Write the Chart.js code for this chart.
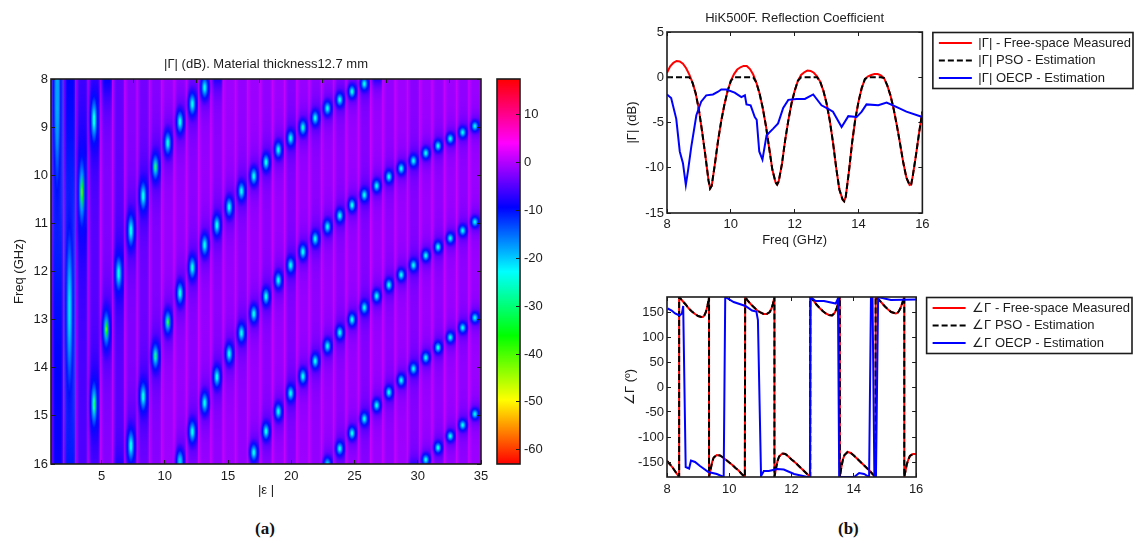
<!DOCTYPE html>
<html>
<head>
<meta charset="utf-8">
<style>
  html, body { margin: 0; background: #fff; width: 1136px; height: 543px; overflow: hidden; }
  canvas { position: absolute; }
  .cap { position: absolute; font: bold 17px "Liberation Serif", serif; color: #111; }
</style>
<script src="https://cdn.jsdelivr.net/npm/chart.js@4"></script>
</head>
<body>
<canvas id="heat" width="492" height="439" style="left:0;top:58px"></canvas>
<canvas id="cbar" width="70" height="395" style="left:490px;top:75px"></canvas>
<canvas id="mag" width="521" height="235" style="left:620px;top:12px"></canvas>
<canvas id="phase" width="520" height="206" style="left:620px;top:294px"></canvas>
<div class="cap" style="left:255px;top:519px">(a)</div>
<div class="cap" style="left:838px;top:519px">(b)</div>
<script>
// heat map, one list per column (epsilon = 1..35)
const epsCols = [1,2,3,4,5,6,7,8,9,10,11,12,13,14,15,16,17,18,19,20,21,22,23,24,25,26,27,28,29,30,31,32,33,34,35];
const epsTicks = [5,10,15,20,25,30,35];
const heatFreqTicks = [8,9,10,11,12,13,14,15,16];
const colorTicks = [10,0,-10,-20,-30,-40,-50,-60];
const columnBase = [-8,-8,-5,-4,-2,-4,-2,-3,-2,-1,-1,-1.5,-1,-1.5,-1,-1.5,-1,-1.5,-1,-2,-1,-1.5,-1,-1.5,-1,-2,-1,-1.5,-1,-2,-1,-1.5,-1,-1.5,-1];
const dipFreqs = [
  [8.3],[12.8],[10.35],[8.85,14.76],[7.92,13.2],[12.04,16.5],[11.15,15.62],[10.43,14.6],[9.83,13.76],[9.33,13.05],
  [8.89,12.45,15.95],[8.52,11.92,15.33],[8.18,11.45,14.73],[7.88,11.04,14.19],[10.66,13.71],[10.33,13.28],[10.02,12.88,15.76],[9.73,12.52,15.32],[9.47,12.18,14.91],[9.23,11.87,14.53],
  [9.01,11.59,14.18],[8.81,11.32,13.86],[8.61,11.07,13.55,16.01],[8.43,10.84,13.27,15.68],[8.26,10.62,13,15.36],[8.1,10.41,12.75,15.06],[7.95,10.22,12.51,14.78],[10.03,12.28,14.51],[9.86,12.07,14.26],[9.7,11.87,14.02,16.1],
  [9.54,11.67,13.79,15.91],[9.39,11.49,13.58,15.66],[9.24,11.31,13.37,15.42],[9.11,11.15,13.17,15.19],[8.98,10.97,12.96,14.96]
];
const dipLevels = [
  [-17],[-22],[-52],[-27,-35],[-24,-50],[-27,-22],[-26,-26],[-26,-28],[-40,-36],[-28,-45],
  [-26,-27,-20],[-25,-28,-26],[-25,-26,-26],[-24,-26,-26],[-26,-26],[-26,-27],[-26,-26,-26],[-26,-27,-26],[-27,-26,-26],[-27,-26,-26],
  [-30,-26,-26],[-26,-27,-26],[-26,-26,-27,-22],[-26,-26,-26,-25],[-28,-26,-26,-26],[-26,-26,-26,-26],[-22,-26,-26,-26],[-26,-27,-26],[-26,-26,-26],[-26,-26,-26,-22],
  [-26,-26,-26,-26],[-26,-26,-26,-26],[-26,-27,-26,-26],[-26,-26,-26,-26],[-24,-24,-24,-24]
];
const dipSpans = [7,6,2.6,1.7,1.4,1.3,1.2,1.07,.95,.85,.82,.8,.77,.74,.71,.67,.63,.6,.58,.56,.54,.52,.5,.48,.46,.45,.44,.43,.42,.41,.4,.39,.38,.37,.36];

// |Gamma| panel
const magFreq = [8,8.1,8.2,8.3,8.4,8.5,8.6,8.7,8.8,8.9,9,9.1,9.2,9.3,9.35,9.4,9.5,9.6,9.7,9.8,9.9,10,10.1,10.2,10.3,10.4,10.5,10.6,10.7,10.8,10.9,11,11.1,11.2,11.3,11.4,11.45,11.5,11.6,11.7,11.8,11.9,12,12.1,12.2,12.3,12.4,12.5,12.6,12.7,12.8,12.9,13,13.1,13.2,13.3,13.4,13.5,13.55,13.6,13.7,13.8,13.9,14,14.1,14.2,14.3,14.4,14.5,14.6,14.7,14.8,14.9,15,15.1,15.2,15.3,15.4,15.5,15.6,15.65,15.7,15.8,15.9,16];
const magMeasured = [.5,1.2,1.6,1.8,1.75,1.5,1,.3,-.6,-1.8,-3.6,-6,-8.6,-11.4,-12.3,-12,-9.6,-7,-4.8,-3,-1.5,-.4,.35,.85,1.1,1.25,1.25,.9,.3,-.6,-1.8,-3.4,-5.4,-7.8,-10.2,-11.6,-11.85,-11.5,-9.6,-7,-4.8,-2.9,-1.5,-.4,.25,.55,.75,.7,.5,.1,-.5,-1.5,-2.9,-4.8,-7.2,-10,-12.4,-13.5,-13.7,-13.2,-10.4,-7.2,-4.6,-2.7,-1.2,-.2,.1,.25,.35,.35,.2,-.1,-.9,-2,-3.5,-5.3,-7.3,-9.4,-11.1,-11.9,-11.85,-10.9,-8.6,-6.1,-3.8];
const magPso = [0,0,0,0,0,0,0,0,-.6,-1.8,-3.6,-6,-8.6,-11.4,-12.3,-12,-9.6,-7,-4.8,-3,-1.5,-.4,0,0,0,0,0,0,0,-.6,-1.8,-3.4,-5.4,-7.8,-10.2,-11.6,-11.85,-11.5,-9.6,-7,-4.8,-2.9,-1.5,-.4,0,0,0,0,0,0,-.5,-1.5,-2.9,-4.8,-7.2,-10,-12.4,-13.5,-13.7,-13.2,-10.4,-7.2,-4.6,-2.7,-1.2,-.2,0,0,0,0,0,-.1,-.9,-2,-3.5,-5.3,-7.3,-9.4,-11.1,-11.9,-11.85,-10.9,-8.6,-6.1,-3.8];
const magOecpFreq = [8,8.13,8.29,8.4,8.5,8.59,8.66,8.76,8.92,9.07,9.23,9.44,9.6,9.7,9.86,10.12,10.33,10.44,10.49,10.62,10.75,10.81,10.89,10.99,11.12,11.32,11.48,11.64,11.8,12.06,12.32,12.58,12.84,13.05,13.2,13.47,13.68,13.94,14.1,14.25,14.62,14.88,15.2,15.5,16];
const magOecp = [-1.9,-2.3,-4.6,-8.2,-9.5,-11.9,-10.3,-7.7,-4.2,-2.7,-2,-1.9,-1.6,-1.35,-1.35,-1.7,-2.2,-2,-3,-3.1,-4.4,-4.7,-8.2,-9.1,-6.4,-5.7,-5.1,-3.4,-2.5,-2.4,-2.4,-1.9,-3.1,-3.5,-3.8,-5.5,-4.3,-4.4,-3.8,-3,-3.1,-2.8,-3.3,-3.8,-4.4];
const magTicksY = [5,0,-5,-10,-15];
const freqTicks = [8,10,12,14,16];

// phase panel, vertical wraps are kept as repeated frequencies
const phaseFreq = [8,8.1,8.2,8.3,8.39,8.39,8.5,8.6,8.7,8.8,8.9,9,9.1,9.15,9.2,9.25,9.3,9.35,9.35,9.4,9.45,9.5,9.6,9.7,9.8,9.9,10,10.1,10.2,10.3,10.4,10.5,10.51,10.6,10.7,10.8,10.9,11,11.1,11.2,11.3,11.35,11.4,11.45,11.45,11.5,11.55,11.6,11.7,11.8,11.9,12,12.1,12.2,12.3,12.4,12.5,12.6,12.6,12.7,12.8,12.9,13,13.1,13.2,13.3,13.35,13.4,13.45,13.5,13.55,13.55,13.6,13.65,13.7,13.8,13.9,14,14.1,14.2,14.3,14.4,14.5,14.6,14.7,14.7,14.8,14.9,15,15.1,15.2,15.3,15.35,15.4,15.45,15.5,15.55,15.62,15.62,15.7,15.75,15.8,15.9,16];
const phaseMeasured = [-148,-155,-163,-172,-180,180,172,165,157,151,146,142,140,140,143,150,162,180,-180,-165,-150,-141,-136,-137,-141,-146,-151,-156,-162,-167,-174,-180,180,172,165,159,153,149,146,146,150,156,166,180,-180,-163,-148,-139,-133,-134,-139,-145,-150,-156,-162,-168,-174,-180,180,173,165,158,152,147,144,143,146,150,158,168,180,-180,-160,-145,-136,-130,-132,-137,-143,-149,-155,-161,-167,-174,-180,180,175,168,161,155,150,148,147,148,152,158,167,180,-180,-155,-145,-138,-134,-134];
const phasePso = phaseMeasured.slice();
const phaseOecpFreq = [8.02,8.15,8.26,8.4,8.48,8.52,8.6,8.71,8.77,8.9,9.06,9.33,9.6,9.82,9.87,10.14,10.52,10.73,10.87,10.92,11.02,11.11,11.27,11.54,11.75,12.08,12.51,12.59,12.61,12.77,13.04,13.42,13.49,13.53,14.01,14.17,14.33,14.49,14.55,14.6,14.66,14.71,14.78,14.98,15.19,16];
const phaseOecp = [157,153,147,143,147,162,-160,-163,-147,-150,-158,-170,-174,-180,180,170,162,153,151,134,-178,-168,-168,-164,-165,-174,-180,-180,180,172,172,167,177,-180,-180,-172,-174,-180,180,180,-180,-180,180,177,174,175];
const phaseTicksY = [150,100,50,0,-50,-100,-150];

const ink = '#1c1c1c';
const sans = '"Liberation Sans", Arial, sans-serif';
const font13 = { family: sans, size: 13 };
const colorMin = -63, colorMax = 17.5;

Chart.defaults.font.family = sans;
Chart.defaults.font.size = 13;
Chart.defaults.color = ink;
Chart.defaults.animation = false;

const hueOf = level => Math.max(0, Math.min(1, (level - colorMin) / (colorMax - colorMin))) * 360;
const levelColor = (level, alpha = 1) => `hsla(${hueOf(level)},100%,50%,${alpha})`;

const fixedTicks = values => scale => { scale.ticks = values.map(value => ({ value })); };
const pts = (xs, ys) => ys.map((y, i) => ({ x: xs[i], y }));
const inwardGrid = { drawOnChartArea: false, tickLength: -4, tickColor: ink, tickWidth: 1, z: 1 };
const noBorder = { display: false };

// scale sizes are fixed by hand, tick labels must not push the plot area in
const fitSize = (height, width) => s => {
  if (height !== null) s.height = height;
  if (width !== null) s.width = width;
  s.paddingLeft = s.paddingRight = s.paddingTop = s.paddingBottom = 0;
};

// frame round the plot, plus the box round the legend when there is one
const frame = {
  id: 'frame',
  afterDraw(chart) {
    const { ctx, chartArea: a, legend } = chart;
    ctx.save();
    ctx.strokeStyle = ink;
    ctx.lineWidth = 1.6;
    ctx.strokeRect(a.left, a.top, a.right - a.left, a.bottom - a.top);
    if (legend && legend.options.display) {
      const boxes = legend.legendHitBoxes;
      const first = boxes[0], last = boxes[boxes.length - 1];
      const widest = Math.max(...boxes.map(b => b.width));
      ctx.strokeRect(first.left - 6, first.top - 4, widest + 8, last.top + last.height - first.top + 8);
    }
    ctx.restore();
  }
};

// soft vertical shading of one column around its dips
function columnGradient(c) {
  const chart = c.chart;
  if (c.dataIndex === undefined || !chart.chartArea) return levelColor(-1);
  const y = chart.scales.y, i = c.dataIndex;
  const g = chart.ctx.createLinearGradient(0, y.getPixelForValue(8), 0, y.getPixelForValue(16));
  for (let f = 8; f <= 16.001; f += 0.04) {
    let level = columnBase[i];
    dipFreqs[i].forEach(d => {
      const r = (f - d) / (dipSpans[i] * 0.4);
      level += -7 / (1 + r * r);
    });
    g.addColorStop(Math.min(1, (f - 8) / 8), levelColor(level));
  }
  return g;
}

// lighter seam on the edges of a cell, as in the upscaled image
function seamGradient(c) {
  const chart = c.chart;
  if (c.dataIndex === undefined || !chart.chartArea) return 'rgba(0,0,0,0)';
  const s = chart.scales.cells, half = (chart.chartArea.right - chart.chartArea.left) / 70;
  const mid = s.getPixelForValue(c.dataIndex);
  const g = chart.ctx.createLinearGradient(mid - half, 0, mid + half, 0);
  g.addColorStop(0, 'hsla(290,100%,50%,0.75)');
  g.addColorStop(0.3, 'hsla(285,100%,50%,0)');
  g.addColorStop(0.8, 'hsla(285,100%,50%,0)');
  g.addColorStop(1, 'hsla(290,100%,50%,0.45)');
  return g;
}

// elliptical bright core of a dip, used as the point image
const blobCache = {};
function blobImage(level, spanGHz, pxPerGHz) {
  const w = 12, h = Math.max(8, Math.round(spanGHz * pxPerGHz));
  const key = level + '_' + h;
  if (blobCache[key]) return blobCache[key];
  const cv = document.createElement('canvas');
  cv.width = w; cv.height = h;
  const g2 = cv.getContext('2d');
  g2.translate(w / 2, h / 2);
  g2.scale(w / 2, h / 2);
  const g = g2.createRadialGradient(0, 0, 0, 0, 0, 1);
  g.addColorStop(0, levelColor(level));
  g.addColorStop(0.12, levelColor((level - 20) / 2));
  g.addColorStop(0.3, levelColor(-17));
  g.addColorStop(0.58, levelColor(-10, 0.95));
  g.addColorStop(1, levelColor(-7, 0));
  g2.fillStyle = g;
  g2.fillRect(-1, -1, 2, 2);
  blobCache[key] = cv;
  return cv;
}

const dipPoints = [];
dipFreqs.forEach((list, i) => list.forEach((f, j) => {
  dipPoints.push({ x: epsCols[i], y: f, level: dipLevels[i][j], span: dipSpans[i] });
}));

new Chart(document.getElementById('heat'), {
  type: 'bar',
  data: {
    labels: epsCols,
    datasets: [
      {
        type: 'scatter', order: 0, xAxisID: 'cells', yAxisID: 'y', data: dipPoints,
        pointRadius: 1, pointHoverRadius: 1, borderWidth: 0,
        pointStyle: c => {
          const p = c.raw;
          if (!p || !c.chart.chartArea) return 'circle';
          const s = c.chart.scales.y;
          return blobImage(p.level, p.span, Math.abs(s.getPixelForValue(9) - s.getPixelForValue(8)));
        }
      },
      {
        order: 1, xAxisID: 'cells', yAxisID: 'y', grouped: false,
        data: epsCols.map(e => ({ x: e, y: [8, 16] })),
        backgroundColor: seamGradient, borderWidth: 0,
        barPercentage: 1, categoryPercentage: 1
      },
      {
        order: 2, xAxisID: 'cells', yAxisID: 'y', grouped: false,
        data: epsCols.map(e => ({ x: e, y: [8, 16] })),
        backgroundColor: columnGradient, borderWidth: 0,
        barPercentage: 1, categoryPercentage: 1
      }
    ]
  },
  options: {
    responsive: false,
    layout: { autoPadding: false, padding: { right: 11 } },
    plugins: {
      legend: { display: false }, tooltip: { enabled: false },
      title: { display: true, text: '|Γ| (dB). Material thickness12.7 mm', font: { ...font13, weight: 'normal', lineHeight: 1 }, color: ink, padding: { top: 0, bottom: 8 }, fullSize: false }
    },
    scales: {
      cells: { type: 'category', axis: 'x', position: 'bottom', display: false, offset: true },
      x: {
        type: 'linear', position: 'bottom', min: 1, max: 35, offset: false, grid: { ...inwardGrid, offset: false }, border: noBorder,
        afterBuildTicks: fixedTicks(epsTicks), afterFit: fitSize(33, null),
        ticks: { padding: 9, maxRotation: 0, autoSkip: false, callback: v => v },
        title: { display: true, text: '|ε |', font: { size: 13, lineHeight: 1 }, padding: 0 }
      },
      top: {
        type: 'linear', axis: 'x', position: 'top', min: 1, max: 35, offset: false, grid: inwardGrid, border: noBorder,
        afterBuildTicks: fixedTicks(epsTicks), afterFit: fitSize(0, null), ticks: { display: false }
      },
      y: {
        type: 'linear', position: 'left', min: 8, max: 16, reverse: true, grid: inwardGrid, border: noBorder,
        afterBuildTicks: fixedTicks(heatFreqTicks), afterFit: fitSize(null, 51),
        ticks: { padding: 7, autoSkip: false, callback: v => v },
        title: { display: true, text: 'Freq (GHz)', font: { size: 13, lineHeight: 1 }, padding: { top: 13, bottom: 0 } }
      },
      right: {
        type: 'linear', axis: 'y', position: 'right', min: 8, max: 16, reverse: true, grid: inwardGrid, border: noBorder,
        afterBuildTicks: fixedTicks(heatFreqTicks), afterFit: fitSize(null, 0), ticks: { display: false }
      }
    }
  },
  plugins: [frame]
});

new Chart(document.getElementById('cbar'), {
  type: 'bar',
  data: {
    labels: [''],
    datasets: [{
      data: [{ x: '', y: [colorMin, colorMax] }],
      barPercentage: 1, categoryPercentage: 1, borderWidth: 0,
      backgroundColor: c => {
        if (!c.chart.chartArea) return levelColor(-20);
        const s = c.chart.scales.y;
        const g = c.chart.ctx.createLinearGradient(0, s.getPixelForValue(colorMin), 0, s.getPixelForValue(colorMax));
        for (let k = 0; k <= 36; k++) g.addColorStop(k / 36, levelColor(colorMin + (colorMax - colorMin) * k / 36));
        return g;
      }
    }]
  },
  options: {
    responsive: false,
    layout: { autoPadding: false, padding: { left: 7, top: 4, bottom: 6 } },
    plugins: { legend: { display: false }, tooltip: { enabled: false } },
    scales: {
      x: { display: false, offset: true },
      y: {
        type: 'linear', position: 'right', min: colorMin, max: colorMax, grid: inwardGrid, border: noBorder,
        afterBuildTicks: fixedTicks(colorTicks), afterFit: fitSize(null, 40),
        ticks: { padding: 8, autoSkip: false, callback: v => v }
      }
    }
  },
  plugins: [frame]
});

function lineSet(label, data, color, order, dash) {
  return { label, data, borderColor: color, backgroundColor: color, borderWidth: 2, pointRadius: 0, order, borderDash: dash || [], tension: 0 };
}

function legendLabels(chart) {
  const items = Chart.defaults.plugins.legend.labels.generateLabels(chart);
  items.forEach(item => {
    const ds = chart.data.datasets[item.datasetIndex];
    item.lineDash = ds.borderDash;
    item.strokeStyle = ds.borderColor;
    item.lineWidth = ds.borderWidth;
  });
  return items;
}

function linePanel(id, datasets, yMin, yMax, yTicks, yLabel, gap, titleText, xLabel) {
  return new Chart(document.getElementById(id), {
    type: 'line',
    data: { datasets },
    options: {
      responsive: false,
      layout: { autoPadding: false, padding: { top: titleText ? 0 : 3 } },
      plugins: {
        tooltip: { enabled: false },
        title: { display: !!titleText, text: titleText, font: { ...font13, weight: 'normal', lineHeight: 1 }, color: ink, padding: { top: 0, bottom: 7 }, fullSize: false },
        legend: {
          position: 'right', align: 'start', fullSize: false, maxWidth: 260,
          labels: {
            usePointStyle: true, pointStyle: 'line', pointStyleWidth: 33, font: font13, color: ink, padding: 4.5,
            generateLabels: legendLabels, sort: (a, b) => a.datasetIndex - b.datasetIndex
          }
        }
      },
      scales: {
        x: {
          type: 'linear', position: 'bottom', min: 8, max: 16, grid: inwardGrid, border: noBorder,
          afterBuildTicks: fixedTicks(freqTicks), afterFit: fitSize(xLabel ? 34 : 23, null),
          ticks: { padding: xLabel ? 8 : 9, maxRotation: 0, autoSkip: false, callback: v => v },
          title: { display: !!xLabel, text: xLabel, font: { size: 13, lineHeight: 1 }, padding: 0 }
        },
        top: {
          type: 'linear', axis: 'x', position: 'top', min: 8, max: 16, grid: inwardGrid, border: noBorder,
          afterBuildTicks: fixedTicks(freqTicks), afterFit: fitSize(0, null), ticks: { display: false }
        },
        y: {
          type: 'linear', position: 'left', min: yMin, max: yMax, grid: inwardGrid, border: noBorder,
          afterBuildTicks: fixedTicks(yTicks), afterFit: fitSize(null, 47),
          ticks: { padding: 7, autoSkip: false, callback: v => v },
          title: { display: true, text: yLabel, font: { size: 13, lineHeight: 1 }, padding: { top: titleText ? 6 : 4, bottom: 0 } }
        },
        right: {
          type: 'linear', axis: 'y', position: 'right', min: yMin, max: yMax, grid: inwardGrid, border: noBorder,
          afterBuildTicks: fixedTicks(yTicks), afterFit: fitSize(null, gap), ticks: { display: false }
        }
      }
    },
    plugins: [frame]
  });
}

linePanel('mag', [
  lineSet('|Γ| - Free-space Measured', pts(magFreq, magMeasured), '#ff0000', 3),
  lineSet('|Γ| PSO - Estimation', pts(magFreq, magPso), '#000000', 2, [6, 3]),
  lineSet('|Γ| OECP - Estimation', pts(magOecpFreq, magOecp), '#0000ff', 1)
], -15, 5, magTicksY, '|Γ| (dB)', 12, 'HiK500F. Reflection Coefficient', 'Freq (GHz)');

linePanel('phase', [
  lineSet('∠Γ - Free-space Measured', pts(phaseFreq, phaseMeasured), '#ff0000', 3),
  lineSet('∠Γ PSO - Estimation', pts(phaseFreq, phasePso), '#000000', 2, [6, 3]),
  lineSet('∠Γ OECP - Estimation', pts(phaseOecpFreq, phaseOecp), '#0000ff', 1)
], -180, 180, phaseTicksY, '∠Γ (º)', 12, '', '');
</script>
</body>
</html>
